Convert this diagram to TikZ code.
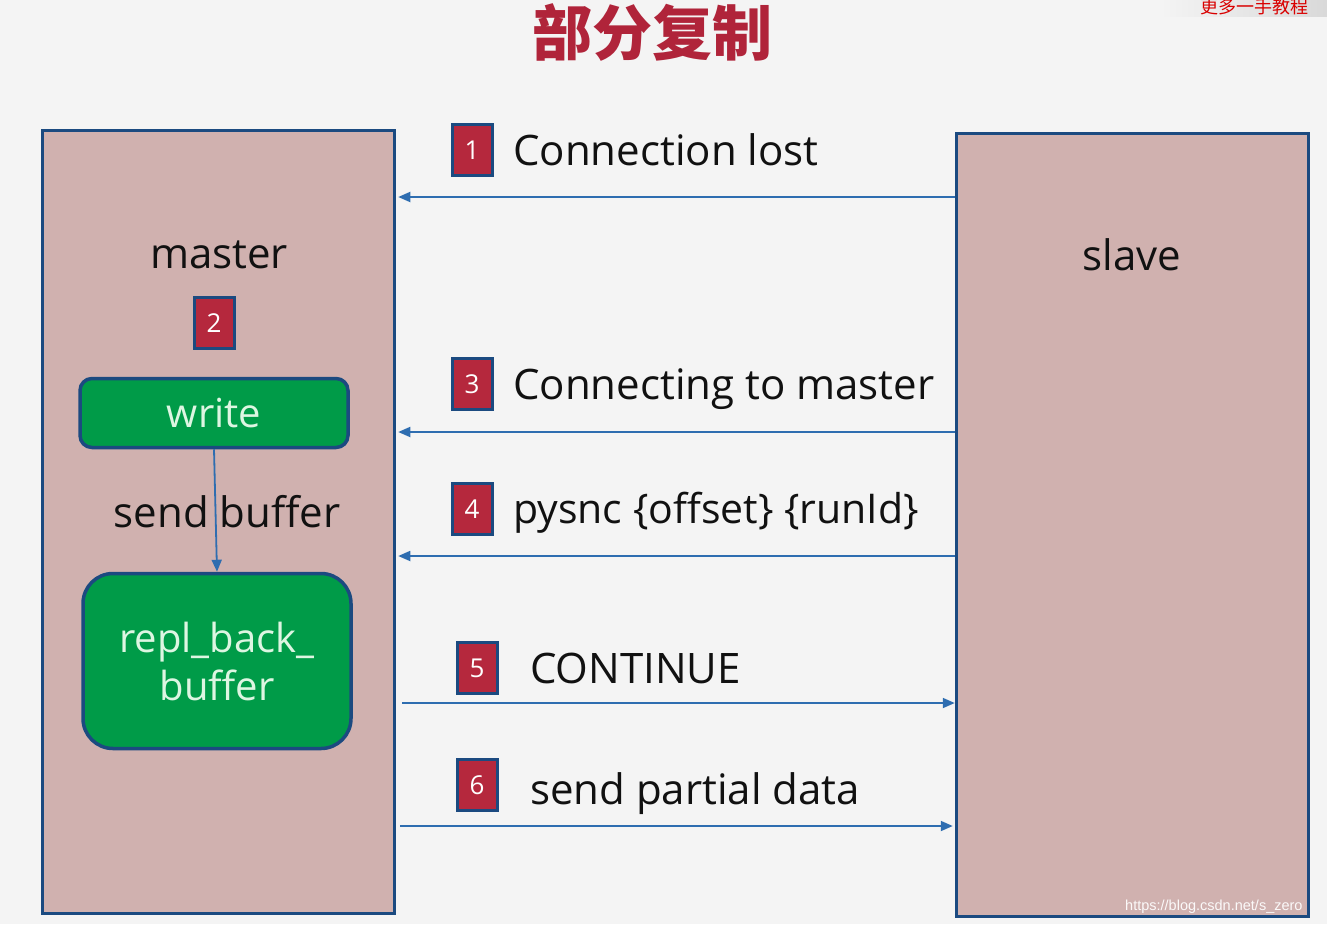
\documentclass[tikz,border=0pt]{standalone}
\usepackage{fontspec}
\setmainfont{Open Sans}
\newfontfamily\cjk{Noto Sans CJK SC}
\newfontfamily\arialf{Liberation Sans}
\usetikzlibrary{arrows.meta}
\definecolor{bgc}{HTML}{F4F4F4}
\definecolor{pinkc}{HTML}{D0B1AF}
\definecolor{borderc}{HTML}{1B4A80}
\definecolor{badgec}{HTML}{B5283D}
\definecolor{arrc}{HTML}{2E6DB0}
\definecolor{greenc}{HTML}{009B48}
\definecolor{gtext}{HTML}{DDF6E2}
\definecolor{titlec}{HTML}{B0243A}
\definecolor{txtc}{HTML}{111111}
\begin{document}
\begin{tikzpicture}[x=1pt,y=-1pt,
  bigbox/.style={draw=borderc,line width=3.5pt,fill=pinkc,inner sep=0pt,minimum width=352pt,minimum height=783pt},
  badge/.style={draw=borderc,line width=3pt,fill=badgec,inner sep=0pt,minimum width=40pt,minimum height=51pt,text=white,font=\fontsize{26}{30}\selectfont},
  gbox/.style={draw=borderc,line width=3.5pt,fill=greenc,inner sep=0pt,text=gtext,align=center,font=\fontsize{40}{48}\selectfont},
  lbl/.style={anchor=base west,inner sep=0pt,text=txtc,font=\fontsize{42}{50}\selectfont},
  clbl/.style={anchor=base,inner sep=0pt,text=txtc,font=\fontsize{42}{50}\selectfont},
  arr/.style={draw=arrc,line width=1.8pt,-{Triangle[length=12pt,width=10pt]}}]
\useasboundingbox (0,0) rectangle (1327,924);
\fill[bgc] (0,0) rectangle (1327,924);
% top-right cropped banner
\shade[left color=bgc,right color=black!15] (1160,0) rectangle (1327,16);
\node[anchor=west,inner sep=0pt,text=red!85!black,font=\cjk\fontsize{18}{20}\selectfont] (banner) at (1200,7) {更多一手教程};
% title
\node[inner sep=0pt,text=titlec,font=\cjk\bfseries\fontsize{60}{66}\selectfont] (title) at (652,32) {部分复制};
% boxes
\node[bigbox] (master) at (218.5,522) {};
\node[bigbox] (slave) at (1132.5,525) {};
\node[clbl] (mtext) at (219,268) {master};
\node[clbl] (stext) at (1132,270) {slave};
\node[badge] (b2) at (214,323) {2};
\node[gbox,rounded corners=12pt,minimum width=268pt,minimum height=69pt] (write) at (214,413) {write};
\node[gbox,rounded corners=30pt,minimum width=268pt,minimum height=175pt] (repl) at (217,661) {repl\_back\_\\buffer};
\node[clbl] (sb) at (227,527) {send buffer};
\draw[arr] (write.south) -- (repl.north);
% messages
\coordinate (y1) at (0,197);
\coordinate (y3) at (0,432);
\coordinate (y4) at (0,556);
\coordinate (y5) at (0,703);
\coordinate (y6) at (0,826);
\node[badge] (b1) at (472,150) {1};
\node[lbl] (t1) at (513,165) {Connection lost};
\draw[arr] (slave.west |- y1) -- ([xshift=2pt]master.east |- y1);
\node[badge] (b3) at (472,384) {3};
\node[lbl] (t3) at (513,399) {Connecting to master};
\draw[arr] (slave.west |- y3) -- ([xshift=2pt]master.east |- y3);
\node[badge] (b4) at (472,509) {4};
\node[lbl,font=\fontsize{41}{50}\selectfont] (t4) at (513,523) {pysnc \{offset\} \{runId\}};
\draw[arr] (slave.west |- y4) -- ([xshift=2pt]master.east |- y4);
\node[badge] (b5) at (477,668) {5};
\node[lbl] (t5) at (530,683) {CONTINUE};
\draw[arr] ([xshift=6pt]master.east |- y5) -- (slave.west |- y5);
\node[badge] (b6) at (477,785) {6};
\node[lbl] (t6) at (530,804) {send partial data};
\draw[arr] ([xshift=4pt]master.east |- y6) -- ([xshift=-2pt]slave.west |- y6);
% watermark
\node[anchor=base west,inner sep=0pt,text=white!92!pinkc,font=\arialf\fontsize{14.5}{17}\selectfont] (wm) at (1125,910) {https://blog.csdn.net/s\_zero};
\end{tikzpicture}
\end{document}
